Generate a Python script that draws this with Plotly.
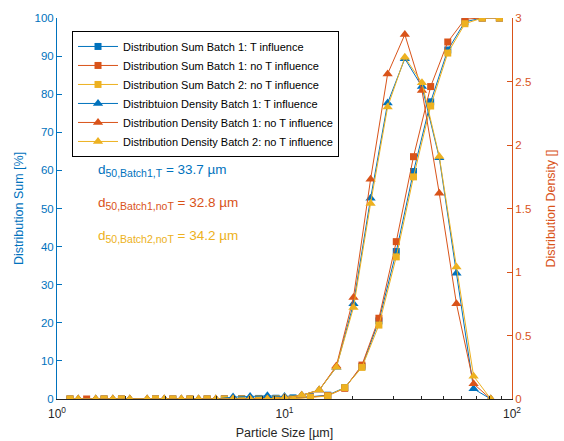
import plotly.graph_objects as go

# Particle sizes [µm]: bin edges (cumulative sum) and bin centres (density)
size_edges = [1.14, 1.35, 1.61, 1.92, 2.28, 2.71, 3.23, 3.84, 4.57, 5.44, 6.48, 7.71, 9.17,
              10.9, 13.0, 15.5, 18.4, 21.9, 26.0, 31.0, 36.9, 43.9, 52.2, 62.1, 74.0, 88.0]
size_centres = [1.24, 1.48, 1.76, 2.09, 2.49, 2.96, 3.52, 4.19, 4.99, 5.94, 7.06, 8.41, 10.0,
                11.9, 14.2, 16.9, 20.1, 23.9, 28.4, 33.8, 40.2, 47.9, 57.0, 67.8, 80.7]

# Distribution sum [%]
sum_b1_T = [0, None, 0, 0, None, 0, 0, 0, 0, 0.05, 0.1, 0.15, 0.2, 0.3, 0.6, 1.0, 3.0, 8.5,
            20.5, 38.7, 59.7, 78.0, 91.6, 99.0, 100, 100]
sum_b1_noT = [0, 0, 0, 0, None, 0, 0, 0, 0, 0, 0, 0, 0.05, 0.1, 0.5, 0.9, 2.8, 8.9,
              21.2, 41.3, 63.6, 82.0, 93.7, 99.7, 100, 100]
sum_b2_noT = [0, None, 0, 0, None, 0, 0, 0, 0, 0, 0, 0, 0.05, 0.1, 0.4, 0.8, 3.0, 8.3,
              19.4, 37.3, 58.3, 76.9, 90.8, 98.5, 100, 100]

# Distribution density []
dens_b1_T = [0, 0, 0, 0, 0, 0, 0, 0, 0, 0.015, 0.02, 0.025, 0.02, 0.03, 0.07, 0.25, 0.75,
             1.58, 2.33, 2.68, 2.46, 1.90, 0.99, 0.08, 0.0]
dens_b1_noT = [0, 0, 0, 0, 0, 0, 0, 0, 0, 0, 0, 0, 0.01, 0.03, 0.07, 0.26, 0.80,
               1.73, 2.56, 2.87, 2.43, 1.62, 0.75, 0.12, 0.0]
dens_b2_noT = [0, 0, 0, 0, 0, 0, 0, 0, 0, 0, 0, 0, 0.01, 0.03, 0.07, 0.25, 0.72,
               1.54, 2.30, 2.69, 2.49, 1.91, 1.04, 0.18, 0.0]

d50_subs = ["50,Batch1,T", "50,Batch1,noT", "50,Batch2,noT"]
d50_values = ["33.7", "32.8", "34.2"]

BLUE = "#0072BD"
ORANGE = "#D95319"
YELLOW = "#EDB120"
DARK = "#262626"
FONT = "Liberation Sans, Arial, sans-serif"

fig = go.Figure()

sum_series = [("Distribution Sum Batch 1: T influence", sum_b1_T, BLUE),
              ("Distribution Sum Batch 1: no T influence", sum_b1_noT, ORANGE),
              ("Distribution Sum Batch 2: no T influence", sum_b2_noT, YELLOW)]
for name, vals, col in sum_series:
    fig.add_trace(go.Scatter(x=size_edges, y=vals, name=name, mode="lines+markers",
                             connectgaps=True,
                             line=dict(color=col, width=1),
                             marker=dict(symbol="square", size=7, color=col),
                             yaxis="y"))

dens_series = [("Distribtuion Density Batch 1: T influence", dens_b1_T, BLUE),
               ("Distribution Density Batch 1: no T influence", dens_b1_noT, ORANGE),
               ("Distribution Density Batch 2: no T influence", dens_b2_noT, YELLOW)]
for name, vals, col in dens_series:
    fig.add_trace(go.Scatter(x=size_centres, y=vals, name=name, mode="lines+markers",
                             line=dict(color=col, width=1),
                             marker=dict(symbol="triangle-up", size=9, color=col),
                             yaxis="y2"))

ann_colors = [BLUE, ORANGE, YELLOW]
ann_y = [0.60, 0.512, 0.426]
for sub, val, col, yy in zip(d50_subs, d50_values, ann_colors, ann_y):
    txt = ("d<sub><span style='font-size:10.5px'>" + sub + "</span></sub> = "
           + val + " µm")
    fig.add_annotation(text=txt, x=0.086, y=yy, xref="paper", yref="paper",
                       xanchor="left", yanchor="middle", showarrow=False,
                       font=dict(color=col, size=13.5, family=FONT))

minor_vals = [2, 3, 4, 5, 6, 7, 8, 9, 20, 30, 40, 50, 60, 70, 80, 90]

fig.update_layout(
    width=564, height=441, autosize=False,
    margin=dict(l=57, r=52, t=18, b=42),
    paper_bgcolor="white", plot_bgcolor="white",
    font=dict(family=FONT, size=11, color=DARK),
    showlegend=True,
    legend=dict(x=0.033, y=0.966, xanchor="left", yanchor="top",
                bgcolor="white", bordercolor="black", borderwidth=1,
                font=dict(size=11, color="black", family=FONT),
                tracegroupgap=0, itemwidth=40),
    xaxis=dict(type="log", range=[0, 2], automargin=False,
               tickvals=[1, 10, 100],
               ticktext=["10<sup>0</sup>", "10<sup>1</sup>", "10<sup>2</sup>"],
               ticks="inside", ticklen=5, tickcolor=DARK,
               ticklabelstandoff=4,
               minor=dict(tickvals=minor_vals, ticks="inside", ticklen=3, tickcolor=DARK),
               showline=True, linecolor=DARK, linewidth=1, mirror=False,
               showgrid=False, zeroline=False,
               tickfont=dict(size=12, color=DARK),
               title=dict(text="Particle Size [µm]", standoff=7,
                          font=dict(size=12.5, color=DARK))),
    yaxis=dict(range=[0, 100], dtick=10, tick0=0, automargin=False,
               ticks="inside", ticklen=5, tickcolor=BLUE,
               showline=True, linecolor=BLUE, linewidth=1,
               showgrid=False, zeroline=False,
               tickfont=dict(size=11.5, color=BLUE),
               title=dict(text="Distribution Sum [%]", standoff=8,
                          font=dict(size=12.5, color=BLUE))),
    yaxis2=dict(range=[0, 3], dtick=0.5, tick0=0, overlaying="y", side="right",
                automargin=False,
                ticks="inside", ticklen=5, tickcolor=ORANGE,
                showline=True, linecolor=ORANGE, linewidth=1,
                showgrid=False, zeroline=False,
                tickfont=dict(size=11.5, color=ORANGE),
                title=dict(text="Distribution Density []", standoff=15,
                           font=dict(size=12.5, color=ORANGE))),
)

fig.write_html("out.html")
